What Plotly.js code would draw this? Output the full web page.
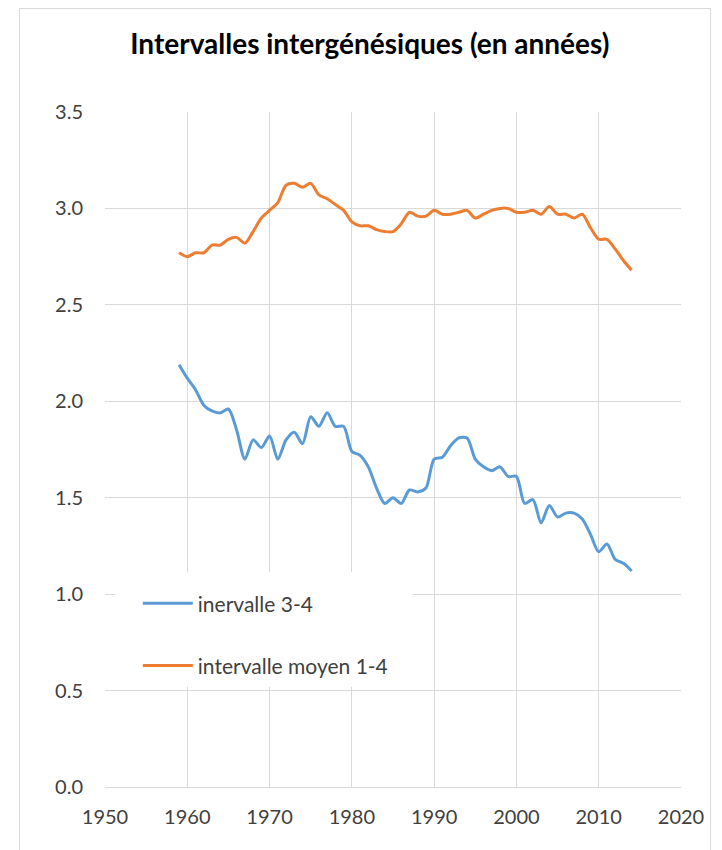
<!DOCTYPE html>
<html>
<head>
<meta charset="utf-8">
<script src="https://cdn.plot.ly/plotly-3.0.1.min.js"></script>
<style>
  html, body { margin: 0; padding: 0; background: #fff; overflow: hidden; }
  #frame { position: absolute; left: 19px; top: 8px; width: 690px; height: 860px; border: 1px solid #d9d9d9; }
  #chart { width: 690px; height: 860px; }
</style>
</head>
<body>
<div id="frame"><div id="chart"></div></div>
<script>
const years = [];
for (let y = 1959; y <= 2014; y++) years.push(y);

const interval34 = [
  2.19, 2.12, 2.06, 1.98, 1.95, 1.94, 1.96, 1.85, 1.70, 1.80,
  1.76, 1.82, 1.70, 1.80, 1.84, 1.78, 1.92, 1.87, 1.94, 1.87,
  1.87, 1.74, 1.72, 1.66, 1.55, 1.47, 1.50, 1.47, 1.54, 1.53,
  1.55, 1.70, 1.71, 1.77, 1.81, 1.81, 1.70, 1.66, 1.64, 1.66,
  1.61, 1.61, 1.47, 1.49, 1.37, 1.46, 1.40, 1.42, 1.42, 1.39,
  1.31, 1.22, 1.26, 1.18, 1.16, 1.12
];

const intervalMoyen14 = [
  2.77, 2.75, 2.77, 2.77, 2.81, 2.81, 2.84, 2.85, 2.82, 2.88,
  2.95, 2.99, 3.03, 3.12, 3.13, 3.11, 3.13, 3.07, 3.05, 3.02,
  2.99, 2.93, 2.91, 2.91, 2.89, 2.88, 2.88, 2.92, 2.98, 2.96,
  2.96, 2.99, 2.97, 2.97, 2.98, 2.99, 2.95, 2.97, 2.99, 3.00,
  3.00, 2.98, 2.98, 2.99, 2.97, 3.01, 2.97, 2.97, 2.95, 2.97,
  2.90, 2.84, 2.84, 2.79, 2.73, 2.68
];

const seriesNames = ['inervalle 3-4', 'intervalle moyen 1-4'];
const titleText = 'Intervalles intergénésiques (en années)';

const traces = [
  {
    x: years, y: interval34, name: seriesNames[0], type: 'scatter', mode: 'lines',
    line: { color: '#5B9BD5', width: 3, shape: 'spline', smoothing: 0.8 },
    legendgroup: 'a'
  },
  {
    x: years, y: intervalMoyen14, name: seriesNames[1], type: 'scatter', mode: 'lines',
    line: { color: '#ED7D31', width: 3, shape: 'spline', smoothing: 0.8 },
    legendgroup: 'b'
  }
];

const tickFont = { family: 'Lato, "Open Sans", sans-serif', size: 20, color: '#404040' };

const layout = {
  width: 690, height: 860,
  margin: { l: 85, r: 29, t: 103, b: 82 },
  paper_bgcolor: '#ffffff', plot_bgcolor: '#ffffff',
  title: {
    text: '<b>' + titleText + '</b>',
    font: { family: 'Lato, "Open Sans", sans-serif', size: 28, color: '#000000' },
    x: 0.507, xanchor: 'center', xref: 'container',
    y: 1 - 35 / 860, yanchor: 'middle'
  },
  xaxis: {
    range: [1950, 2020], dtick: 10, tick0: 1950,
    showgrid: true, gridcolor: '#d9d9d9', gridwidth: 1,
    zeroline: false, showline: true, linecolor: '#d9d9d9', linewidth: 1,
    ticks: '', ticklabelstandoff: 12, tickfont: tickFont, fixedrange: true
  },
  yaxis: {
    range: [0, 3.5], dtick: 0.5, tick0: 0, tickformat: '.1f',
    showgrid: true, gridcolor: '#d9d9d9', gridwidth: 1,
    zeroline: false, showline: false,
    ticks: '', ticklabelstandoff: 21, tickfont: tickFont, fixedrange: true
  },
  shapes: [
    {
      type: 'rect', layer: 'above', xref: 'x', yref: 'y',
      x0: 1951.2, x1: 1987.4, y0: 0.52, y1: 1.114,
      fillcolor: '#ffffff', line: { width: 0 }
    }
  ],
  showlegend: true,
  legend: {
    x: 0.057, xanchor: 'left', y: 0.302, yanchor: 'top',
    bgcolor: 'rgba(0,0,0,0)', borderwidth: 0,
    font: { family: 'Lato, "Open Sans", sans-serif', size: 21, color: '#404040' },
    traceorder: 'grouped', tracegroupgap: 32, itemwidth: 50
  }
};

Plotly.newPlot('chart', traces, layout, { displayModeBar: false, staticPlot: true });
</script>
</body>
</html>
